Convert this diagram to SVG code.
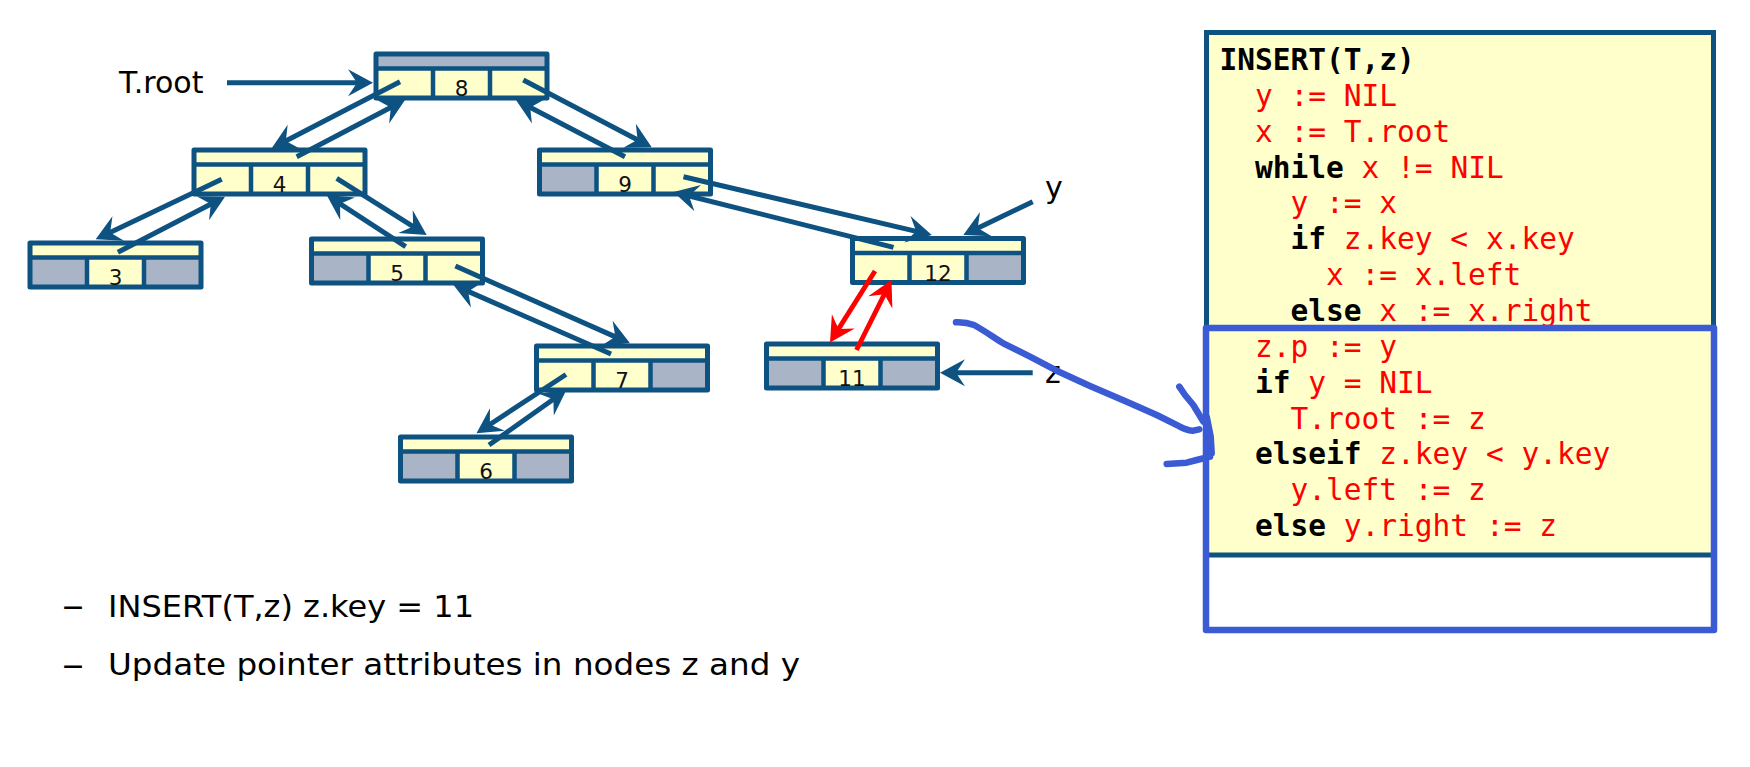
<svg xmlns="http://www.w3.org/2000/svg" width="1750" height="767" viewBox="0 0 1750 767">
<style>
.frame{fill:none;stroke:#0D5281;stroke-width:5;stroke-linejoin:round}
.div{fill:none;stroke:#0D5281;stroke-width:4.5}
.Y{fill:#FFFFCC}
.G{fill:#A9B4C6}
.num{font-family:"DejaVu Sans",sans-serif;font-size:21.5px;fill:#111;text-anchor:middle}
.lbl{font-family:"DejaVu Sans",sans-serif;font-size:30px;fill:#000}
.con{fill:none;stroke:#0D5281;stroke-width:5;marker-end:url(#ah)}
.red{fill:none;stroke:#FF0000;stroke-width:4.8;marker-end:url(#ahr)}
.code{font-family:"DejaVu Sans Mono",monospace;font-size:29.5px}
.kw{font-weight:bold;fill:#000}
.rd{fill:#FF0000}
.hand{fill:none;stroke:#3B5BD5;stroke-width:6.5;stroke-linecap:round;stroke-linejoin:round}
.bul{font-family:"DejaVu Sans",sans-serif;font-size:30px;fill:#000}
.dash{font-family:"DejaVu Sans",sans-serif;font-size:36px;fill:#000}
</style>
<defs>
<marker id="ah" viewBox="-22 -15 30 30" refX="0" refY="0" markerWidth="30" markerHeight="30" markerUnits="userSpaceOnUse" orient="auto">
<path d="M6,0 L-19,-13.5 L-10,0 L-19,13.5 Z" fill="#0D5281"/>
</marker>
<marker id="ahr" viewBox="-22 -15 30 30" refX="0" refY="0" markerWidth="30" markerHeight="30" markerUnits="userSpaceOnUse" orient="auto">
<path d="M6,0 L-19,-13.5 L-10,0 L-19,13.5 Z" fill="#FF0000"/>
</marker>
</defs>
<rect width="1750" height="767" fill="#FFFFFF"/>

<g id="nodes">
<g id="n8" transform="translate(376,54)">
<rect class="G" width="171" height="14.5"/><rect class="Y" y="14.5" width="57" height="29.5"/><rect class="Y" x="57" y="14.5" width="57" height="29.5"/><rect class="Y" x="114" y="14.5" width="57" height="29.5"/>
<path class="div" d="M0,14.5H171M57,14.5V44M114,14.5V44"/><rect class="frame" width="171" height="44"/>
<text class="num" x="85.5" y="42">8</text>
</g>
<g id="n4" transform="translate(194,150)">
<rect class="Y" width="171" height="14.5"/><rect class="Y" y="14.5" width="57" height="29.5"/><rect class="Y" x="57" y="14.5" width="57" height="29.5"/><rect class="Y" x="114" y="14.5" width="57" height="29.5"/>
<path class="div" d="M0,14.5H171M57,14.5V44M114,14.5V44"/><rect class="frame" width="171" height="44"/>
<text class="num" x="85.5" y="42">4</text>
</g>
<g id="n9" transform="translate(539.5,150)">
<rect class="Y" width="171" height="14.5"/><rect class="G" y="14.5" width="57" height="29.5"/><rect class="Y" x="57" y="14.5" width="57" height="29.5"/><rect class="Y" x="114" y="14.5" width="57" height="29.5"/>
<path class="div" d="M0,14.5H171M57,14.5V44M114,14.5V44"/><rect class="frame" width="171" height="44"/>
<text class="num" x="85.5" y="42">9</text>
</g>
<g id="n3" transform="translate(30,243)">
<rect class="Y" width="171" height="14.5"/><rect class="G" y="14.5" width="57" height="29.5"/><rect class="Y" x="57" y="14.5" width="57" height="29.5"/><rect class="G" x="114" y="14.5" width="57" height="29.5"/>
<path class="div" d="M0,14.5H171M57,14.5V44M114,14.5V44"/><rect class="frame" width="171" height="44"/>
<text class="num" x="85.5" y="42">3</text>
</g>
<g id="n5" transform="translate(311.5,239)">
<rect class="Y" width="171" height="14.5"/><rect class="G" y="14.5" width="57" height="29.5"/><rect class="Y" x="57" y="14.5" width="57" height="29.5"/><rect class="Y" x="114" y="14.5" width="57" height="29.5"/>
<path class="div" d="M0,14.5H171M57,14.5V44M114,14.5V44"/><rect class="frame" width="171" height="44"/>
<text class="num" x="85.5" y="42">5</text>
</g>
<g id="n12" transform="translate(852.5,238.5)">
<rect class="Y" width="171" height="14.5"/><rect class="Y" y="14.5" width="57" height="29.5"/><rect class="Y" x="57" y="14.5" width="57" height="29.5"/><rect class="G" x="114" y="14.5" width="57" height="29.5"/>
<path class="div" d="M0,14.5H171M57,14.5V44M114,14.5V44"/><rect class="frame" width="171" height="44"/>
<text class="num" x="85.5" y="42">12</text>
</g>
<g id="n7" transform="translate(536.5,346)">
<rect class="Y" width="171" height="14.5"/><rect class="Y" y="14.5" width="57" height="29.5"/><rect class="Y" x="57" y="14.5" width="57" height="29.5"/><rect class="G" x="114" y="14.5" width="57" height="29.5"/>
<path class="div" d="M0,14.5H171M57,14.5V44M114,14.5V44"/><rect class="frame" width="171" height="44"/>
<text class="num" x="85.5" y="42">7</text>
</g>
<g id="n11" transform="translate(766.5,344)">
<rect class="Y" width="171" height="14.5"/><rect class="G" y="14.5" width="57" height="29.5"/><rect class="Y" x="57" y="14.5" width="57" height="29.5"/><rect class="G" x="114" y="14.5" width="57" height="29.5"/>
<path class="div" d="M0,14.5H171M57,14.5V44M114,14.5V44"/><rect class="frame" width="171" height="44"/>
<text class="num" x="85.5" y="42">11</text>
</g>
<g id="n6" transform="translate(400.5,437)">
<rect class="Y" width="171" height="14.5"/><rect class="G" y="14.5" width="57" height="29.5"/><rect class="Y" x="57" y="14.5" width="57" height="29.5"/><rect class="G" x="114" y="14.5" width="57" height="29.5"/>
<path class="div" d="M0,14.5H171M57,14.5V44M114,14.5V44"/><rect class="frame" width="171" height="44"/>
<text class="num" x="85.5" y="42">6</text>
</g>
</g>

<g id="labels">
<text class="lbl" x="119" y="92.5">T.root</text>
<text class="lbl" x="1045" y="198">y</text>
<text class="lbl" x="1045" y="383">z</text>
</g>

<g id="connectors">
<path class="con" d="M227,82.7 L367,82.7"/>
<path class="con" d="M400,81.7 L277,145.5"/>
<path class="con" d="M296.7,156.7 L399.7,102.8"/>
<path class="con" d="M523.3,80 L646.4,144.5"/>
<path class="con" d="M625,156.7 L521.3,102.8"/>
<path class="con" d="M221.7,179.3 L101.1,236.7"/>
<path class="con" d="M117.9,252.3 L219.7,199.5"/>
<path class="con" d="M336.7,178.3 L421.6,231.8"/>
<path class="con" d="M405.7,246.7 L331.7,198.3"/>
<path class="con" d="M683.5,176.7 L925.9,233.6"/>
<path class="con" d="M893.5,247.3 L679.3,193.5"/>
<path class="con" d="M455.4,266 L624.5,340.9"/>
<path class="con" d="M611,354 L459,287.4"/>
<path class="con" d="M566,374.5 L481.5,430"/>
<path class="con" d="M489,445 L561.5,393.5"/>
<path class="red" d="M875,271 L833.2,337.4"/>
<path class="red" d="M856.5,350 L888.8,285.4"/>
<path class="con" d="M1032.7,201.7 L968.7,232.4"/>
<path class="con" d="M1032.7,372.7 L946,372.7"/>
</g>

<g id="code">
<rect x="1206.5" y="32.5" width="507" height="522.5" fill="#FFFFCC" stroke="#0D5281" stroke-width="5"/>
<text class="code" xml:space="preserve" x="1219.5" y="70"><tspan class="kw">INSERT(T,z)</tspan></text>
<text class="code" xml:space="preserve" x="1255" y="105.8"><tspan class="rd">y := NIL</tspan></text>
<text class="code" xml:space="preserve" x="1255" y="141.7"><tspan class="rd">x := T.root</tspan></text>
<text class="code" xml:space="preserve" x="1255" y="177.5"><tspan class="kw">while</tspan><tspan class="rd"> x != NIL</tspan></text>
<text class="code" xml:space="preserve" x="1290.5" y="213.4"><tspan class="rd">y := x</tspan></text>
<text class="code" xml:space="preserve" x="1290.5" y="249.2"><tspan class="kw">if</tspan><tspan class="rd"> z.key &lt; x.key</tspan></text>
<text class="code" xml:space="preserve" x="1326" y="285.1"><tspan class="rd">x := x.left</tspan></text>
<text class="code" xml:space="preserve" x="1290.5" y="320.9"><tspan class="kw">else</tspan><tspan class="rd"> x := x.right</tspan></text>
<text class="code" xml:space="preserve" x="1255" y="356.8"><tspan class="rd">z.p := y</tspan></text>
<text class="code" xml:space="preserve" x="1255" y="392.6"><tspan class="kw">if</tspan><tspan class="rd"> y = NIL</tspan></text>
<text class="code" xml:space="preserve" x="1290.5" y="428.5"><tspan class="rd">T.root := z</tspan></text>
<text class="code" xml:space="preserve" x="1255" y="464.3"><tspan class="kw">elseif</tspan><tspan class="rd"> z.key &lt; y.key</tspan></text>
<text class="code" xml:space="preserve" x="1290.5" y="500.2"><tspan class="rd">y.left := z</tspan></text>
<text class="code" xml:space="preserve" x="1255" y="536"><tspan class="kw">else</tspan><tspan class="rd"> y.right := z</tspan></text>
</g>

<g id="highlight">
<rect x="1206" y="328" width="508" height="302" class="hand" stroke-linecap="butt"/>
<path class="hand" d="M956,322.3 C963,322 968,322.7 974,325 C985,331 993,337 1003.3,343.3 L1030,356.7 L1056.7,370.7 L1090,386 L1126.7,401.7 L1156.7,415 L1180,426.7 C1186,429.5 1190,431 1193.3,430.7 L1199.3,429.3"/>
<path class="hand" d="M1179.3,386.7 L1185,395 L1193.3,405 L1198.3,413.3 L1203.3,421.7"/>
<path class="hand" d="M1206.7,416.7 L1210.7,436.7 L1211.7,453.3"/>
<path class="hand" d="M1166.7,464 L1186.7,462.7 L1196.7,460 L1210,456.7"/>
</g>

<g id="bullets">
<text class="dash" x="62" y="618" textLength="22" lengthAdjust="spacingAndGlyphs">–</text>
<text class="bul" x="108" y="617" textLength="366" lengthAdjust="spacingAndGlyphs">INSERT(T,z) z.key = 11</text>
<text class="dash" x="62" y="677" textLength="22" lengthAdjust="spacingAndGlyphs">–</text>
<text class="bul" x="108" y="675" textLength="692" lengthAdjust="spacingAndGlyphs">Update pointer attributes in nodes z and y</text>
</g>
</svg>
